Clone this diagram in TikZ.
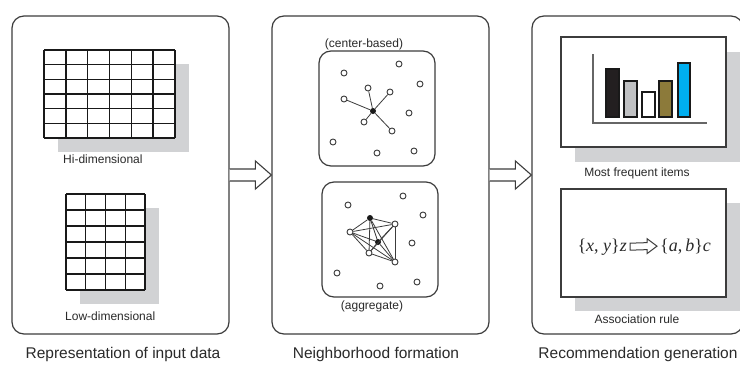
\documentclass[tikz,border=0pt]{standalone}
\usepackage{fontspec}
\setmainfont{Liberation Sans}
\newfontfamily\timesf{Liberation Serif}
\usetikzlibrary{calc}
\definecolor{shadowgray}{HTML}{D1D2D4}
\definecolor{linegray}{HTML}{3C3C3C}
\definecolor{txt}{HTML}{2A2A2A}
\definecolor{barblack}{HTML}{231F20}
\definecolor{bargray}{HTML}{C0C1C3}
\definecolor{barolive}{HTML}{8C7A3A}
\definecolor{barcyan}{HTML}{00AEEF}
\tikzset{
  outerbox/.style={draw=linegray, line width=1.2pt, rounded corners=12pt, fill=white, inner sep=0pt},
  innerbox/.style={draw=linegray, line width=1.2pt, rounded corners=12pt, fill=white, inner sep=0pt},
  framebox/.style={draw=linegray, line width=1.5pt, fill=white},
  gridline/.style={draw=black!90, line width=1.45pt},
  blockarrow/.style={draw=linegray, line width=1.1pt, fill=white, line join=miter},
  pt/.style={circle, draw=linegray, line width=0.9pt, fill=white, inner sep=0pt, minimum size=6pt},
  hub/.style={circle, fill=black!90, inner sep=0pt, minimum size=6pt},
  link/.style={draw=linegray, line width=0.8pt},
  smalllabel/.style={text=txt, font=\fontsize{12}{14}\selectfont, inner sep=0pt},
  caption/.style={text=txt, font=\fontsize{15.5}{18}\selectfont, inner sep=0pt},
  formulatext/.style={text=txt, font=\timesf\fontsize{18}{20}\selectfont, inner sep=0pt},
  bar/.style={draw=black!90, line width=1.2pt},
  axisline/.style={draw=black!60, line width=1.5pt}
}
\begin{document}
\begin{tikzpicture}[x=1pt,y=-1pt]
\useasboundingbox (0,0) rectangle (740,367);
\fill[white] (0,0) rectangle (740,367);

% outer boxes
\node[outerbox, minimum width=217pt, minimum height=318pt] (b1) at (120.5,175) {};
\node[outerbox, minimum width=217pt, minimum height=318pt] (b2) at (380.5,175) {};
\node[outerbox, minimum width=211pt, minimum height=318pt] (b3) at (637.5,175) {};

% block arrows
\draw[blockarrow] ($(b1.east)+(0,-6)$) -- ($(b2.west)+(-16,-6)$) -- ($(b2.west)+(-16,-14)$)
  -- (b2.west) -- ($(b2.west)+(-16,14)$) -- ($(b2.west)+(-16,6)$) -- ($(b1.east)+(0,6)$);
\draw[blockarrow] ($(b2.east)+(0,-6)$) -- ($(b3.west)+(-16,-6)$) -- ($(b3.west)+(-16,-14)$)
  -- (b3.west) -- ($(b3.west)+(-16,14)$) -- ($(b3.west)+(-16,6)$) -- ($(b2.east)+(0,6)$);

% ---- panel 1: grids
\fill[shadowgray] (58,64) rectangle (189,152);
\fill[white] (44,50) rectangle (175,138);
\foreach \i in {0,...,6} \draw[gridline] ({44+\i*21.833},50) -- ({44+\i*21.833},138);
\foreach \j in {0,...,6} \draw[gridline] (44,{50+\j*14.667}) -- (175,{50+\j*14.667});
\node[smalllabel, anchor=west] (hilab) at (63,159) {Hi-dimensional};

\fill[shadowgray] (80,208) rectangle (159,304);
\fill[white] (66,194) rectangle (145,290);
\foreach \i in {0,...,4} \draw[gridline] ({66+\i*19.75},194) -- ({66+\i*19.75},290);
\foreach \j in {0,...,6} \draw[gridline] (66,{194+\j*16}) -- (145,{194+\j*16});
\node[smalllabel, anchor=west] (lowlab) at (65,316) {Low-dimensional};

% ---- panel 2: neighborhoods
\node[innerbox, minimum width=116pt, minimum height=115pt] (cb) at (377,108.5) {};
\node[smalllabel] (cblab) at (364,44) {(center-based)};
\node[pt] (c1) at (344,73) {};
\node[pt] (c2) at (399,64) {};
\node[pt] (c3) at (420,84) {};
\node[pt] (c4) at (368,88) {};
\node[pt] (c5) at (390,92) {};
\node[pt] (c6) at (344,99) {};
\node[pt] (c7) at (409,113) {};
\node[hub] (cc) at (373,111) {};
\node[pt] (c8) at (364,122) {};
\node[pt] (c9) at (392,131) {};
\node[pt] (c10) at (333,142) {};
\node[pt] (c11) at (377,153) {};
\node[pt] (c12) at (414,151) {};
\foreach \t in {c4,c5,c6,c8,c9} \draw[link] (cc) -- (\t);

\node[innerbox, minimum width=116pt, minimum height=115pt] (ag) at (380,239.5) {};
\node[smalllabel] (aglab) at (372,306) {(aggregate)};
\node[pt] (a1) at (348,205) {};
\node[pt] (a2) at (403,196) {};
\node[pt] (a3) at (423,215) {};
\node[hub] (k1) at (370,218) {};
\node[pt] (k2) at (395,224) {};
\node[pt] (k3) at (350,232) {};
\node[pt] (a4) at (412,243) {};
\node[hub] (k4) at (378,242) {};
\node[pt] (k5) at (369,253) {};
\node[pt] (k6) at (395,262) {};
\node[pt] (a5) at (337,273) {};
\node[pt] (a6) at (380,286) {};
\node[pt] (a7) at (417,282) {};
\foreach \s/\t in {k1/k2,k1/k3,k1/k4,k1/k5,k1/k6,k2/k3,k2/k4,k2/k5,k2/k6,k3/k4,k3/k5,k3/k6,k4/k5,k4/k6,k5/k6}
  \draw[link] (\s) -- (\t);

% ---- panel 3: recommendations
\fill[shadowgray] (575,52) rectangle (745,162);
\node[framebox, minimum width=165pt, minimum height=110pt] (freq) at (643.5,92) {};
\draw[axisline] (593,54) -- (593,123) -- (707,123);
\draw[bar, fill=barblack] (606,117) rectangle (619,69);
\draw[bar, fill=bargray] (624,117) rectangle (637,81);
\draw[bar, fill=white] (642,117) rectangle (655,92);
\draw[bar, fill=barolive] (659,117) rectangle (672,81);
\draw[bar, fill=barcyan] (678,117) rectangle (690,63);
\node[smalllabel] (freqlab) at (637,173) {Most frequent items};

\fill[shadowgray] (575,203) rectangle (745,311);
\node[framebox, minimum width=165pt, minimum height=108pt] (rule) at (643.5,243) {};
\node[formulatext, anchor=base east] (lhs) at (627,251) {\{\textit{x}, \textit{y}\}\textit{z}};
\node[formulatext, anchor=base west] (rhs) at (660,251) {\{\textit{a},\,\textit{b}\}\textit{c}};
\coordinate (ra) at ($(lhs.east)+(3,0)$);
\coordinate (rb) at ($(rhs.west)+(-3,0)$);
\draw[blockarrow, line width=1pt] ($(ra)+(0,-3.5)$) -- ($(rb)+(-10,-3.5)$) -- ($(rb)+(-10,-7.5)$)
  -- (rb) -- ($(rb)+(-10,7.5)$) -- ($(rb)+(-10,3.5)$) -- ($(ra)+(0,3.5)$) -- cycle;
\node[smalllabel] (rulelab) at (637,319) {Association rule};

% ---- captions
\node[caption] (cap1) at (123,354) {Representation of input data};
\node[caption] (cap2) at (376,354) {Neighborhood formation};
\node[caption] (cap3) at (638,354) {Recommendation generation};
\end{tikzpicture}
\end{document}
